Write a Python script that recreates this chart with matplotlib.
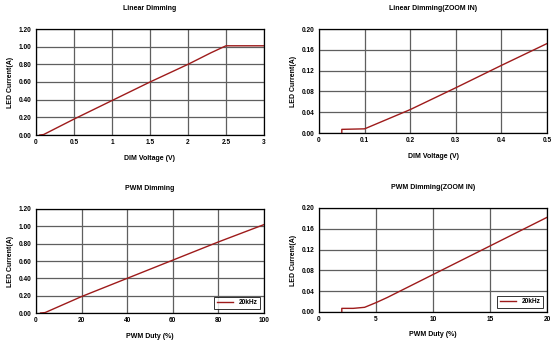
import matplotlib
matplotlib.use("Agg")
import matplotlib.pyplot as plt
import numpy as np

plt.rcParams['font.family'] = ['Liberation Sans', 'DejaVu Sans']
plt.rcParams['font.weight'] = 'bold'

# Linear Dimming
lin_x = [0.05, 0.1, 0.5, 1.0, 1.5, 2.0, 2.3, 2.5, 3.0]
lin_y = [0.0, 0.005, 0.18, 0.39, 0.60, 0.80, 0.93, 1.01, 1.01]
# Linear Dimming zoom
linz_x = [0.05, 0.05, 0.1, 0.2, 0.3, 0.4, 0.5]
linz_y = [0.0, 0.007, 0.008, 0.045, 0.087, 0.130, 0.172]
# PWM Dimming
pwm_x = [2, 4, 20, 40, 60, 80, 100]
pwm_y = [0.0, 0.005, 0.19, 0.40, 0.61, 0.82, 1.02]
# PWM Dimming zoom
pwmz_x = [2, 2, 3, 4, 5, 6, 8, 10, 15, 20]
pwmz_y = [0.0, 0.007, 0.007, 0.009, 0.018, 0.028, 0.050, 0.072, 0.127, 0.182]

lin_xticks = [0, 0.5, 1, 1.5, 2, 2.5, 3]
lin_xticklabels = ['0', '0.5', '1', '1.5', '2', '2.5', '3']
big_yticks = [0, 0.2, 0.4, 0.6, 0.8, 1.0, 1.2]
small_yticks = [0, 0.04, 0.08, 0.12, 0.16, 0.20]
linz_xticks = [0, 0.1, 0.2, 0.3, 0.4, 0.5]
pwm_xticks = [0, 20, 40, 60, 80, 100]
pwmz_xticks = [0, 5, 10, 15, 20]

W, H = 553, 341
fig = plt.figure(figsize=(W/100, H/100), dpi=100)

RED = '#9E1B1B'
FS = 4.7

def mkax(l, r, t, b):
    return fig.add_axes([l/W, 1 - b/H, (r-l)/W, (b-t)/H])

def style(ax, title, xlabel, xt, xtl, yt, ytl, xlim, ylim, legend=False):
    ax.set_xlim(*xlim)
    ax.set_ylim(*ylim)
    ax.set_xticks(xt)
    ax.set_xticklabels(xtl, fontsize=FS, fontweight='bold')
    ax.set_yticks(yt)
    ax.set_yticklabels(ytl, fontsize=FS, fontweight='bold')
    ax.tick_params(length=0, pad=3)
    ax.grid(True, color='#5f5f5f', linewidth=0.9)
    ax.set_axisbelow(True)
    for s in ax.spines.values():
        s.set_linewidth(0.9)
        s.set_color('black')
    ax.set_title(title, fontsize=FS+0.3, fontweight='bold', pad=14)
    ax.set_xlabel(xlabel, fontsize=FS+0.3, fontweight='bold', labelpad=6)
    ax.set_ylabel('LED Current(A)', fontsize=FS+0.3, fontweight='bold', labelpad=4)
    if legend:
        leg = ax.legend(loc='lower right', fontsize=FS, frameon=True, fancybox=False,
                        edgecolor='black', handlelength=2.5, borderpad=0.4,
                        borderaxespad=0.6)
        leg.get_frame().set_linewidth(0.7)

ax1 = mkax(36, 264, 29, 135)
ax1.plot(lin_x, lin_y, color=RED, lw=1.0)
style(ax1, 'Linear Dimming', 'DIM Voltage (V)', lin_xticks, lin_xticklabels,
      big_yticks, ['%.2f' % v for v in big_yticks], (0, 3), (0, 1.2))

ax2 = mkax(319, 547, 29, 133)
ax2.plot(linz_x, linz_y, color=RED, lw=1.0)
style(ax2, 'Linear Dimming(ZOOM IN)', 'DIM Voltage (V)', linz_xticks,
      ['0', '0.1', '0.2', '0.3', '0.4', '0.5'],
      small_yticks, ['%.2f' % v for v in small_yticks], (0, 0.5), (0, 0.2))

ax3 = mkax(36, 264, 209, 313)
ax3.plot(pwm_x, pwm_y, color=RED, lw=1.0, label='20kHz')
style(ax3, 'PWM Dimming', 'PWM Duty (%)', pwm_xticks, [str(v) for v in pwm_xticks],
      big_yticks, ['%.2f' % v for v in big_yticks], (0, 100), (0, 1.2), legend=True)

ax4 = mkax(319, 547, 208, 312)
ax4.plot(pwmz_x, pwmz_y, color=RED, lw=1.0, label='20kHz')
style(ax4, 'PWM Dimming(ZOOM IN)', 'PWM Duty (%)', pwmz_xticks, [str(v) for v in pwmz_xticks],
      small_yticks, ['%.2f' % v for v in small_yticks], (0, 20), (0, 0.2), legend=True)

fig.savefig('out.png', dpi=100)
